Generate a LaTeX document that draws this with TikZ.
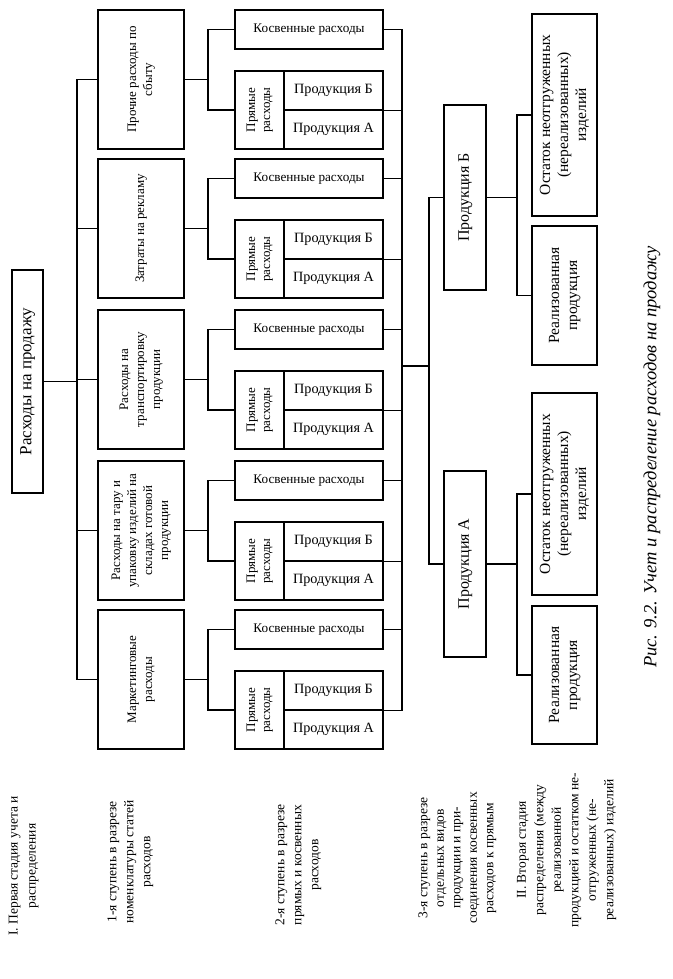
\documentclass[tikz,border=0pt]{standalone}
\usepackage{fontspec}
\setmainfont{Liberation Serif}
\newcommand\BX[6]{\node[box, minimum width={(#4-#2)*1pt}, minimum height={(#5-#3)*1pt}] (#1) at ({(#2+#4)/2},{(#3+#5)/2}) {#6};}
\newcommand\RT[3]{\rotatebox{90}{\fontsize{#1}{#2}\selectfont\begin{tabular}{@{}c@{}}#3\end{tabular}}}
\newcommand\HT[2]{{\fontsize{#1}{#1}\selectfont #2}}
\newcommand\GRP[3]{% #1 index, #2 top y, #3 level-1 text
  \BX{L#1}{98}{#2}{184}{\the\numexpr#2+139\relax}{\RT{13}{16}{#3}}
  \BX{K#1}{235}{#2}{383}{\the\numexpr#2+39\relax}{\HT{13.2}{Косвенные расходы}}
  \BX{Pl#1}{235}{\the\numexpr#2+61\relax}{284}{\the\numexpr#2+139\relax}{\RT{13}{15}{Прямые\\расходы}}
  \BX{Pb#1}{284}{\the\numexpr#2+61\relax}{383}{\the\numexpr#2+100\relax}{\HT{14.2}{Продукция Б}}
  \BX{Pa#1}{284}{\the\numexpr#2+100\relax}{383}{\the\numexpr#2+139\relax}{\HT{14.2}{Продукция А}}
  \draw (L#1.west) -- (L#1.west -| s1);
  \draw (L#1.east) -- (L#1.east -| s2);
  \draw (K#1.west) -- (K#1.west -| s2) -- (Pl#1.west -| s2) -- (Pl#1.west);
  \draw (K#1.east) -- (K#1.east -| s3);
  \draw (Pb#1.south east) -- (Pb#1.south east -| s3);
}
\begin{document}
\begin{tikzpicture}[x=1pt,y=-1pt,line width=1.3pt,
  box/.style={draw, rectangle, inner sep=0pt},
  lab/.style={inner sep=0pt}]
\useasboundingbox (0,0) rectangle (672,979);
\coordinate (s1) at (77,0);
\coordinate (s2) at (208,0);
\coordinate (s3) at (402,0);
\coordinate (s4) at (429,0);
\coordinate (s5) at (517,0);
% root
\BX{root}{12}{270}{43}{493}{\RT{17}{20}{Расходы на продажу}}
\draw (root.east) -- (root.east -| s1);
% groups
\GRP{1}{10}{Прочие расходы по\\сбыту}
\GRP{2}{159}{Затраты на рекламу}
\GRP{3}{310}{Расходы на\\транспортировку\\продукции}
\GRP{4}{461}{Расходы на тару и\\упаковку изделий на\\складах готовой\\продукции}
\GRP{5}{610}{Маркетинговые\\расходы}
\draw (L1.west -| s1) -- (L5.west -| s1);
\draw (K1.east -| s3) -- (Pb5.south east -| s3);
% third level
\BX{PB}{444}{105}{486}{290}{\RT{16}{19}{Продукция Б}}
\BX{PA}{444}{471}{486}{657}{\RT{16}{19}{Продукция А}}
\coordinate (j3) at (402,366);
\draw (j3) -- (j3 -| s4);
\draw (PB.west) -- (PB.west -| s4) -- (PA.west -| s4) -- (PA.west);
% stage II
\BX{OB}{532}{14}{597}{216}{\RT{15.5}{18}{Остаток неотгруженных\\(нереализованных)\\изделий}}
\BX{RB}{532}{226}{597}{365}{\RT{15.5}{18}{Реализованная\\продукция}}
\BX{OA}{532}{393}{597}{595}{\RT{15.5}{18}{Остаток неотгруженных\\(нереализованных)\\изделий}}
\BX{RA}{532}{606}{597}{744}{\RT{15.5}{18}{Реализованная\\продукция}}
\draw (PB.east) -- (PB.east -| s5);
\draw (OB.west) -- (OB.west -| s5) -- (RB.west -| s5) -- (RB.west);
\draw (PA.east) -- (PA.east -| s5);
\draw (OA.west) -- (OA.west -| s5) -- (RA.west -| s5) -- (RA.west);
% side labels
\node[lab] (t1) at (23,866) {\RT{13.5}{18}{I. Первая стадия учета и\\распределения}};
\node[lab] (t2) at (130,862) {\RT{13.5}{17}{1-я ступень в разрезе\\номенклатуры статей\\расходов}};
\node[lab] (t3) at (298,865) {\RT{13.5}{17}{2-я ступень в разрезе\\прямых и косвенных\\расходов}};
\node[lab] (t4) at (457,858) {\RT{13.5}{16.5}{3-я ступень в разрезе\\отдельных видов\\продукции и при-\\соединения косвенных\\расходов к прямым}};
\node[lab] (t5) at (566,850) {\RT{13.5}{17.5}{II. Вторая стадия\\распределения (между\\реализованной\\продукцией и остатком не-\\отгруженных (не-\\реализованных) изделий}};
\node[lab] (cap) at (652,457) {\rotatebox{90}{\fontsize{18.5}{22}\selectfont\itshape Рис. 9.2. Учет и распределение расходов на продажу}};
\end{tikzpicture}
\end{document}
